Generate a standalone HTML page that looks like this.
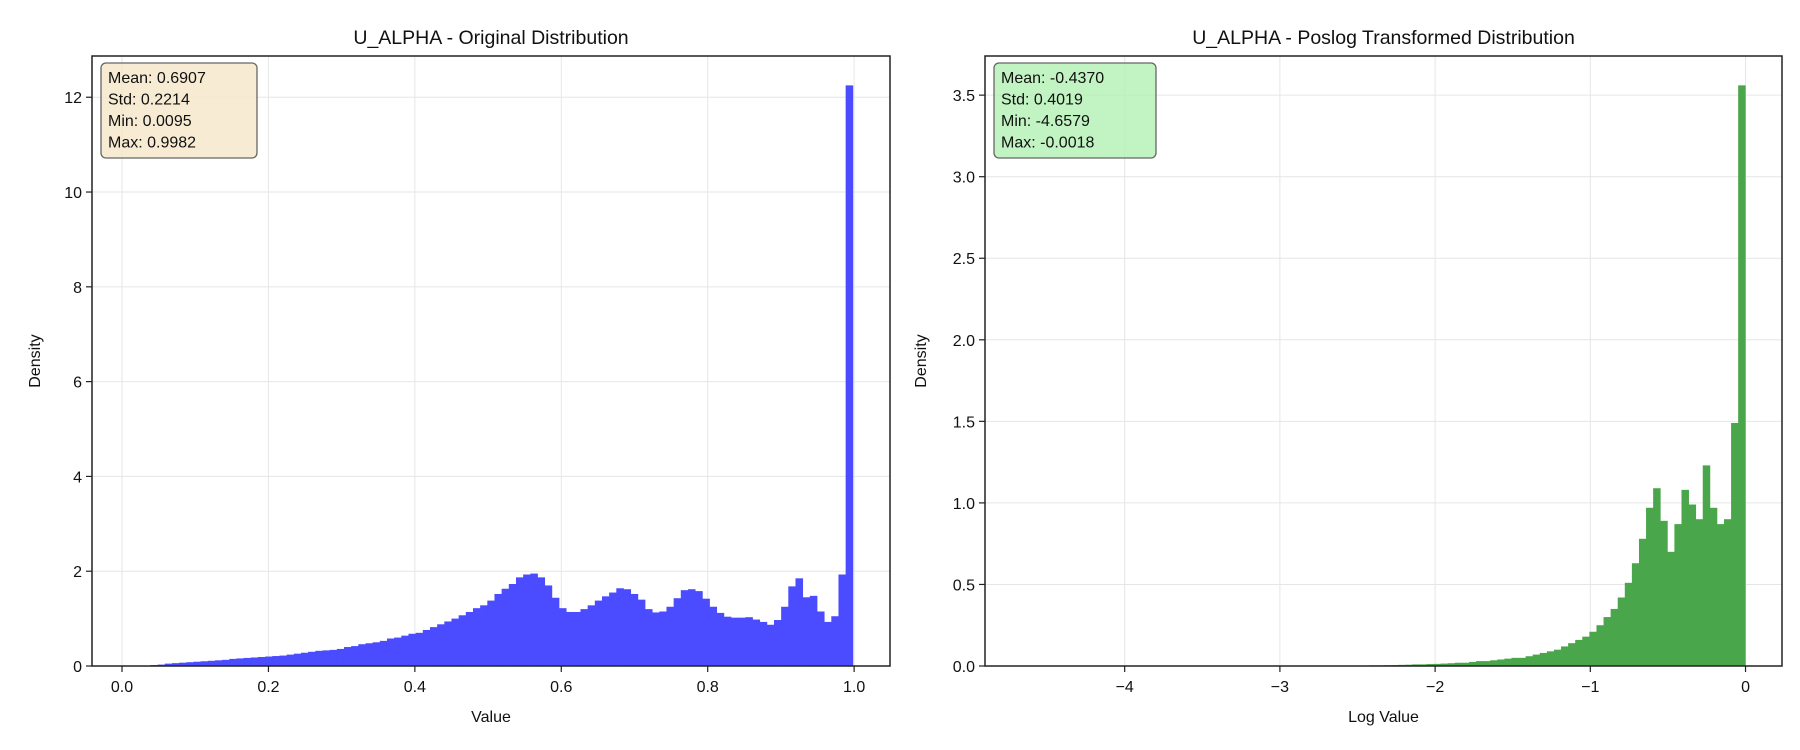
<!DOCTYPE html>
<html><head><meta charset="utf-8">
<style>
html,body{margin:0;padding:0;background:#fff;}
svg{display:block;font-family:"Liberation Sans","DejaVu Sans",sans-serif;}
</style></head>
<body>
<svg id="chart" width="1800" height="750" viewBox="0 0 1800 750" xmlns="http://www.w3.org/2000/svg"></svg>
<script>
const leftValues=[0.005,0.01,0.01,0.02,0.03,0.05,0.06,0.07,0.08,0.09,0.1,0.11,0.12,0.13,0.15,0.16,0.17,0.18,0.19,0.2,0.21,0.22,0.24,0.26,0.28,0.3,0.32,0.33,0.34,0.36,0.4,0.42,0.46,0.48,0.5,0.53,0.58,0.6,0.64,0.68,0.7,0.76,0.82,0.88,0.94,1.0,1.07,1.14,1.22,1.28,1.38,1.52,1.63,1.73,1.87,1.93,1.95,1.87,1.7,1.44,1.22,1.14,1.14,1.2,1.28,1.38,1.47,1.55,1.64,1.62,1.52,1.4,1.2,1.13,1.15,1.25,1.43,1.6,1.62,1.58,1.42,1.25,1.12,1.04,1.02,1.02,1.03,0.98,0.93,0.87,0.97,1.25,1.68,1.85,1.45,1.48,1.15,0.93,1.05,1.93,12.25];
const rightValues=[0,0,0,0,0,0,0,0,0,0,0,0,0,0,0,0,0,0,0,0,0,0,0,0,0,0,0,0,0,0,0,0,0,0,0,0,0,0,0,0,0,0,0,0,0,0,0,0,0.003,0.004,0.004,0.005,0.006,0.007,0.008,0.01,0.01,0.012,0.013,0.015,0.017,0.02,0.02,0.025,0.03,0.03,0.035,0.04,0.045,0.05,0.05,0.06,0.07,0.08,0.09,0.1,0.12,0.14,0.16,0.18,0.21,0.25,0.3,0.35,0.42,0.51,0.63,0.78,0.97,1.09,0.89,0.7,0.87,1.08,0.99,0.9,1.23,0.97,0.87,0.9,1.49,3.56];
const leftXTicks=[0.0,0.2,0.4,0.6,0.8,1.0];
const leftXTickLabels=["0.0","0.2","0.4","0.6","0.8","1.0"];
const leftYTicks=[0,2,4,6,8,10,12];
const rightXTicks=[-4,-3,-2,-1,0];
const rightXTickLabels=["\u22124","\u22123","\u22122","\u22121","0"];
const rightYTicks=[0,0.5,1.0,1.5,2.0,2.5,3.0,3.5];
const rightYTickLabels=["0.0","0.5","1.0","1.5","2.0","2.5","3.0","3.5"];
const leftRange=[0.0095,0.9982];
const rightRange=[-4.6579,-0.0018];
const leftStats=["Mean: 0.6907","Std: 0.2214","Min: 0.0095","Max: 0.9982"];
const rightStats=["Mean: -0.4370","Std: 0.4019","Min: -4.6579","Max: -0.0018"];

const NS="http://www.w3.org/2000/svg";
const svg=document.getElementById('chart');
function mk(tag,attrs,parent,text){const e=document.createElementNS(NS,tag);for(const k in attrs)e.setAttribute(k,attrs[k]);if(text!==undefined)e.textContent=text;(parent||svg).appendChild(e);return e;}

function panel(cfg){
  const g=mk('g',{});
  
  
  const {x0,x1,y0,y1,xmin,xmax,ymin,ymax}=cfg;
  const sx=v=>x0+(v-xmin)/(xmax-xmin)*(x1-x0);
  const sy=v=>y1-(v-ymin)/(ymax-ymin)*(y1-y0);
  // grid
  cfg.xticks.forEach(t=>{const l=mk('line',{x1:sx(t),x2:sx(t),y1:y0,y2:y1,stroke:'#e6e6e6','stroke-width':1},g);
    });
  cfg.yticks.forEach(t=>{const l=mk('line',{x1:x0,x2:x1,y1:sy(t),y2:sy(t),stroke:'#e6e6e6','stroke-width':1},g);
    });
  // bars
  const n=cfg.values.length, w=(cfg.range[1]-cfg.range[0])/n;
  cfg.values.forEach((v,i)=>{
    if(v<=0)return;
    const a=sx(cfg.range[0]+i*w), b=sx(cfg.range[0]+(i+1)*w);
    const r=mk('rect',{x:a,y:sy(v),width:b-a+0.4,height:sy(0)-sy(v),fill:cfg.color},g);
    
    
  });
  // frame
  const fr=mk('rect',{x:x0,y:y0,width:x1-x0,height:y1-y0,fill:'none',stroke:'#222','stroke-width':1.5},g);
  
  // ticks
  cfg.xticks.forEach((t,i)=>{mk('line',{x1:sx(t),x2:sx(t),y1:y1,y2:y1+6,stroke:'#222','stroke-width':1.2},g);
    const tx=mk('text',{x:sx(t),y:y1+26,'text-anchor':'middle','font-size':16,fill:'#111'},g,cfg.xlabels[i]);
    });
  cfg.yticks.forEach((t,i)=>{mk('line',{x1:x0-6,x2:x0,y1:sy(t),y2:sy(t),stroke:'#222','stroke-width':1.2},g);
    const tx=mk('text',{x:x0-10,y:sy(t)+6,'text-anchor':'end','font-size':16,fill:'#111'},g,cfg.ylabels[i]);
    });
  const tt=mk('text',{x:(x0+x1)/2,y:y0-12,'text-anchor':'middle','font-size':19.5,fill:'#111'},g,cfg.title);
  
  const xl=mk('text',{x:(x0+x1)/2,y:y1+56,'text-anchor':'middle','font-size':16,fill:'#111'},g,cfg.xtitle);
  
  const yx=cfg.ytitleX, yy=(y0+y1)/2;
  const yl=mk('text',{x:yx,y:yy,'text-anchor':'middle','font-size':16,fill:'#111',transform:`rotate(-90 ${yx} ${yy})`},g,'Density');
  
  // stats box
  const bx=x0+9, by=y0+7;
  const box=mk('rect',{x:bx,y:by,width:cfg.boxW,height:95,rx:5,fill:cfg.boxFill,'fill-opacity':0.8,stroke:'#666','stroke-width':1.3},g);
  
  cfg.stats.forEach((s,i)=>{const t=mk('text',{x:bx+7,y:by+20+i*21.5,'font-size':16,fill:'#111'},g,s);
    });
}

panel({name:'original-distribution-panel',x0:92,x1:890,y0:56,y1:666,xmin:-0.041,xmax:1.049,ymin:0,ymax:12.87,
  values:leftValues,range:leftRange,color:'#4b4bff',xticks:leftXTicks,xlabels:leftXTickLabels,
  yticks:leftYTicks,ylabels:leftYTicks.map(String),title:'U_ALPHA - Original Distribution',xtitle:'Value',
  ytitleX:40,stats:leftStats,boxFill:'#f5e6c8',boxW:156});
panel({name:'poslog-distribution-panel',x0:985,x1:1782,y0:56,y1:666,xmin:-4.90,xmax:0.235,ymin:0,ymax:3.74,
  values:rightValues,range:rightRange,color:'#4aa64a',xticks:rightXTicks,xlabels:rightXTickLabels,
  yticks:rightYTicks,ylabels:rightYTickLabels,title:'U_ALPHA - Poslog Transformed Distribution',xtitle:'Log Value',
  ytitleX:926,stats:rightStats,boxFill:'#b3f0b3',boxW:162});
</script>
</body></html>
